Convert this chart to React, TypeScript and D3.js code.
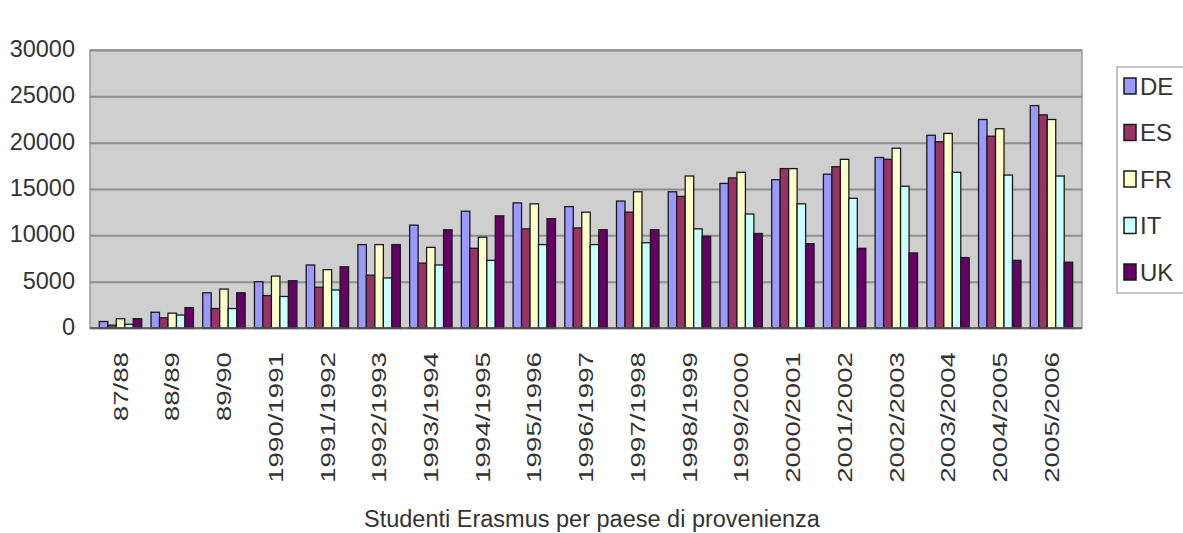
import * as d3 from 'd3';
import { useRef, useEffect } from 'react';

// anni accademici
const categories = [
  '87/88', '88/89', '89/90', '1990/1991', '1991/1992', '1992/1993', '1993/1994',
  '1994/1995', '1995/1996', '1996/1997', '1997/1998', '1998/1999', '1999/2000',
  '2000/2001', '2001/2002', '2002/2003', '2003/2004', '2004/2005', '2005/2006',
];
const countries = ['DE', 'ES', 'FR', 'IT', 'UK'];
const colors = ['#9999ff', '#993366', '#ffffcc', '#ccffff', '#660066'];

// studenti per paese
const deValues = [700, 1700, 3800, 5000, 6800, 9000, 11100, 12600, 13500, 13100, 13700, 14700, 15600, 16000, 16600, 18400, 20800, 22500, 24000];
const esValues = [300, 1100, 2100, 3500, 4400, 5700, 7000, 8600, 10700, 10800, 12500, 14200, 16200, 17200, 17400, 18200, 20100, 20700, 23000];
const frValues = [1000, 1600, 4200, 5600, 6300, 9000, 8700, 9800, 13400, 12500, 14700, 16400, 16800, 17200, 18200, 19400, 21000, 21500, 22500];
const itValues = [400, 1400, 2100, 3400, 4100, 5400, 6800, 7300, 9000, 9000, 9200, 10700, 12300, 13400, 14000, 15300, 16800, 16500, 16400];
const ukValues = [1000, 2200, 3800, 5100, 6600, 9000, 10600, 12100, 11800, 10600, 10600, 9900, 10200, 9100, 8600, 8100, 7600, 7300, 7100];
const yTicks = [0, 5000, 10000, 15000, 20000, 25000, 30000];

export default function App() {
  const ref = useRef<SVGSVGElement>(null);

  useEffect(() => {
    const width = 1183;
    const height = 533;
    const left = 90, right = 1082, top = 50, bottom = 328;
    const font = "'Liberation Sans', Arial, sans-serif";

    const series = [deValues, esValues, frValues, itValues, ukValues];
    const rows = categories.map((c, i) => ({
      cat: c,
      vals: countries.map((k, j) => ({ key: k, value: series[j][i], color: colors[j] })),
    }));

    const x0 = d3.scaleBand().domain(categories).range([left, right]).paddingInner(0.18).paddingOuter(0.18);
    const x1 = d3.scaleBand().domain(countries).range([0, x0.bandwidth()]);
    const y = d3.scaleLinear().domain([0, 30000]).range([bottom, top]);

    const svg = d3.select(ref.current)
      .attr('width', width)
      .attr('height', height)
      .attr('viewBox', `0 0 ${width} ${height}`)
      .style('font-family', font);

    svg.selectAll('*').remove();

    svg.append('rect').attr('width', width).attr('height', height).attr('fill', '#fff');

    // area del grafico
    svg.append('rect')
      .attr('x', left).attr('y', top)
      .attr('width', right - left).attr('height', bottom - top)
      .attr('fill', '#cfcfcf')
      .attr('stroke', '#9a9a9a').attr('stroke-width', 1.5);

    // griglia + etichette asse y
    svg.append('g')
      .attr('transform', `translate(${left},0)`)
      .call(d3.axisLeft(y).tickValues(yTicks).tickFormat(d3.format('d')).tickSize(-(right - left)).tickPadding(15))
      .call(g => g.select('.domain').remove())
      .call(g => g.selectAll('.tick line').attr('stroke', '#8e8e8e').attr('stroke-width', 2))
      .call(g => g.selectAll('.tick text')
        .attr('fill', '#333')
        .attr('font-size', 23.5)
        .attr('y', -1)
        .attr('font-family', font));

    // barre
    svg.append('g')
      .selectAll('g')
      .data(rows)
      .join('g')
        .attr('transform', d => `translate(${x0(d.cat)},0)`)
      .selectAll('rect')
      .data(d => d.vals)
      .join('rect')
        .attr('x', d => x1(d.key)!)
        .attr('y', d => y(d.value))
        .attr('width', x1.bandwidth())
        .attr('height', d => y(0) - y(d.value))
        .attr('fill', d => d.color)
        .attr('stroke', '#1a1a1a')
        .attr('stroke-width', 1.3);

    // asse x
    svg.append('line')
      .attr('x1', left).attr('x2', right)
      .attr('y1', bottom).attr('y2', bottom)
      .attr('stroke', '#555').attr('stroke-width', 1.5);

    svg.append('g')
      .selectAll('text')
      .data(categories)
      .join('text')
        .attr('transform', d => `translate(${x0(d)! + x0.bandwidth() / 2},352) rotate(-90) scale(1.35,1)`)
        .attr('text-anchor', 'end')
        .attr('dy', '0.35em')
        .attr('font-size', 20.5)
        .attr('fill', '#333')
        .text(d => d);

    // titolo asse
    svg.append('text')
      .attr('x', 592)
      .attr('y', 527)
      .attr('text-anchor', 'middle')
      .attr('font-size', 23.5)
      .attr('fill', '#333')
      .text('Studenti Erasmus per paese di provenienza');

    // legenda
    const legend = svg.append('g');
    legend.append('rect')
      .attr('x', 1117).attr('y', 67)
      .attr('width', 90).attr('height', 226)
      .attr('fill', '#fff')
      .attr('stroke', '#b0b0b0').attr('stroke-width', 1.5);

    const item = legend.selectAll('g.item')
      .data(countries)
      .join('g')
        .attr('class', 'item')
        .attr('transform', (d, i) => `translate(1124,${86 + i * 46.5})`);
    item.append('rect')
      .attr('x', 0).attr('y', -8)
      .attr('width', 12).attr('height', 16)
      .attr('fill', (d, i) => colors[i])
      .attr('stroke', '#1a1a1a').attr('stroke-width', 1.5);
    item.append('text')
      .attr('x', 16).attr('dy', '0.36em')
      .attr('font-size', 24)
      .attr('fill', '#333')
      .text(d => d);
  }, []);

  return (
    <div style={{ position: 'absolute', left: 0, top: 0 }}>
      <svg ref={ref} style={{ display: 'block' }}></svg>
    </div>
  );
}
